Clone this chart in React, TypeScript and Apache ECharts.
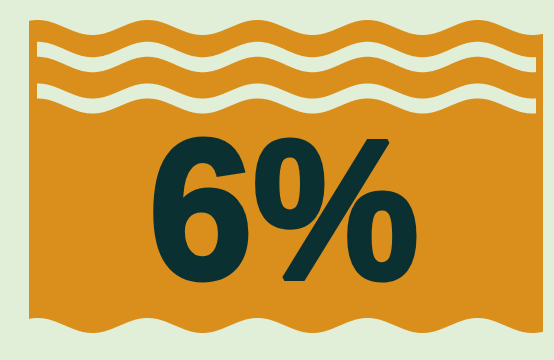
import React, { useEffect, useRef } from "react";
import * as echarts from "echarts";

const valueLabels: string[] = ["6%"];
const bgColor = "#E1EFD9";
const orange = "#DA8E1B";
const dark = "#0A3032";

function wavePoints(x0: number, x1: number, center: number, amp: number, phaseX: number, wl: number): number[][] {
  const pts: number[][] = [];
  for (let x = x0; x <= x1 + 0.001; x += 1) {
    pts.push([x, center - amp * Math.cos((2 * Math.PI * (x - phaseX)) / wl)]);
  }
  return pts;
}

function band(x0: number, x1: number, topC: number, botC: number, amp: number, phaseX: number, wl: number): number[][] {
  const top = wavePoints(x0, x1, topC, amp, phaseX, wl);
  const bot = wavePoints(x0, x1, botC, amp, phaseX, wl).reverse();
  return top.concat(bot);
}

export default function App() {
  const ref = useRef<HTMLDivElement>(null);
  useEffect(() => {
    if (!ref.current) return;
    const chart = echarts.init(ref.current, null, { renderer: "svg" });
    const wl = 110;
    const ph = 37.5;
    chart.setOption({
      animation: false,
      backgroundColor: bgColor,
      graphic: [
        { type: "polygon", shape: { points: band(29, 543, 27.5, 325.5, 7.5, ph, wl) }, style: { fill: orange } },
        { type: "polygon", shape: { points: band(37, 536, 49.5, 64.5, 7.75, ph, wl) }, style: { fill: bgColor } },
        { type: "polygon", shape: { points: band(37, 536, 91, 106, 7.5, ph, wl) }, style: { fill: bgColor } },
        {
          type: "text",
          x: 284,
          y: 209,
          scaleX: 0.94,
          originX: 0,
          style: {
            text: valueLabels[0],
            fill: dark,
            stroke: dark,
            lineWidth: 5,
            lineJoin: "miter",
            font: "bold 199px 'Liberation Sans', Arial, sans-serif",
            textAlign: "center",
            textVerticalAlign: "middle",
          },
        },
      ],
    });
    return () => chart.dispose();
  }, []);
  return <div ref={ref} style={{ position: "fixed", left: 0, top: 0, width: 554, height: 360 }} />;
}
